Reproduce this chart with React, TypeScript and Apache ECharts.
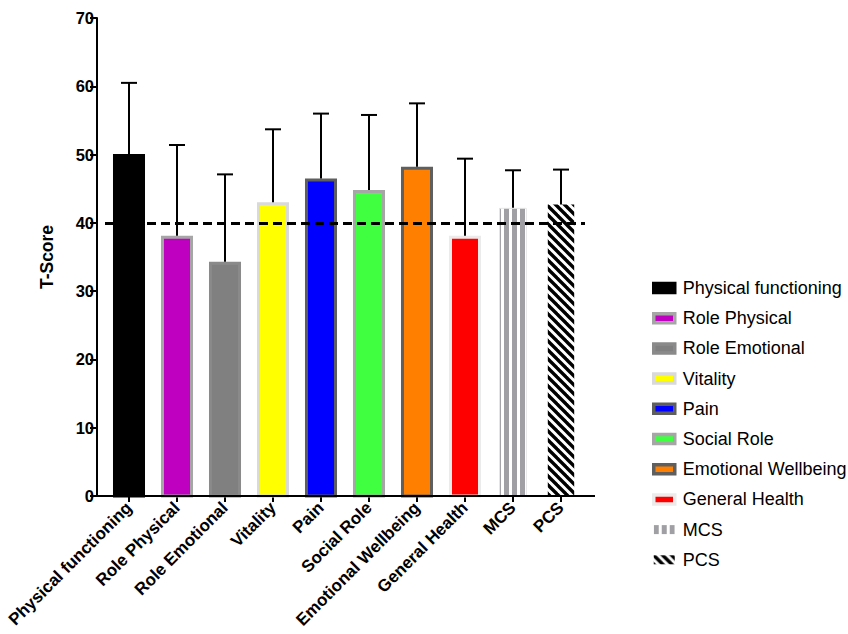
import React, { useEffect, useRef } from "react";
import * as echarts from "echarts";

const categories = [
  "Physical functioning",
  "Role Physical",
  "Role Emotional",
  "Vitality",
  "Pain",
  "Social Role",
  "Emotional Wellbeing",
  "General Health",
  "MCS",
  "PCS",
];
const means = [50.1, 38.1, 34.3, 43.0, 46.5, 44.8, 48.2, 38.1, 42.2, 42.7];
const upperErrors = [60.5, 51.4, 47.1, 53.7, 56.0, 55.8, 57.5, 49.4, 47.7, 47.8];
const referenceLine = 40;
const yTicks = { min: 0, max: 70, interval: 10 };

const fillColors = ["#000000", "#c000c0", "#808080", "#ffff00", "#0000ff", "#40ff40", "#ff8000", "#ff0000", "mcs", "pcs"];
const borderColors = ["#000000", "#a6a6a6", "#8a8a8a", "#d9d9d9", "#5f5f5f", "#a6a6a6", "#5f5f5f", "#ebebeb", "#e6e6e6", "#000000"];
const borderWidths = [3, 3, 3, 3, 3, 3, 3, 3, 1, 0];
const widthRatios = [0.667, 0.667, 0.667, 0.667, 0.667, 0.667, 0.667, 0.667, 0.58, 0.55];

const FONT = '"Liberation Sans", Arial, Helvetica, sans-serif';

function makeStripes(): any {
  const c = document.createElement("canvas");
  c.width = 8;
  c.height = 8;
  const ctx = c.getContext("2d")!;
  ctx.fillStyle = "#ffffff";
  ctx.fillRect(0, 0, 8, 8);
  ctx.fillStyle = "#a0a0a4";
  ctx.fillRect(0, 0, 5, 8);
  return { image: c, repeat: "repeat" };
}

function makeDiagonal(): any {
  const s = 9;
  const c = document.createElement("canvas");
  c.width = s;
  c.height = s;
  const ctx = c.getContext("2d")!;
  ctx.fillStyle = "#ffffff";
  ctx.fillRect(0, 0, s, s);
  ctx.strokeStyle = "#000000";
  ctx.lineWidth = 3.4;
  for (let k = -1; k <= 1; k++) {
    ctx.beginPath();
    ctx.moveTo(k * s - 2, -2);
    ctx.lineTo(k * s + s + 2, s + 2);
    ctx.stroke();
  }
  return { image: c, repeat: "repeat" };
}

export default function App() {
  const ref = useRef<HTMLDivElement>(null);

  useEffect(() => {
    document.body.style.margin = "0";
    if (!ref.current) return;
    const chart = echarts.init(ref.current, undefined, { renderer: "svg" });
    const stripes = makeStripes();
    const diagonal = makeDiagonal();
    const fillOf = (i: number) =>
      fillColors[i] === "mcs" ? stripes : fillColors[i] === "pcs" ? diagonal : fillColors[i];

    const series: any[] = categories.map((name, i) => {
      const s: any = {
        type: "custom",
        name,
        data: [[i, means[i], upperErrors[i]]],
        itemStyle: {
          color: fillOf(i),
          borderColor: borderColors[i],
          borderWidth: borderWidths[i],
        },
        renderItem: (params: any, api: any) => {
          const x = api.value(0);
          const m = api.value(1);
          const u = api.value(2);
          const base = api.coord([x, 0]);
          const top = api.coord([x, m]);
          const up = api.coord([x, u]);
          const band = api.size([1, 0])[0];
          const w = band * widthRatios[i];
          const b = borderWidths[i];
          const cx = base[0];
          return {
            type: "group",
            children: [
              {
                type: "rect",
                shape: {
                  x: cx - w / 2 + b / 2,
                  y: top[1] + b / 2,
                  width: w - b,
                  height: base[1] - top[1] - b / 2,
                },
                style: {
                  fill: fillOf(i),
                  stroke: b > 0 ? borderColors[i] : null,
                  lineWidth: b,
                },
              },
              {
                type: "line",
                shape: { x1: cx, y1: top[1], x2: cx, y2: up[1] },
                style: { stroke: "#000", lineWidth: 2 },
              },
              {
                type: "line",
                shape: { x1: cx - 8, y1: up[1], x2: cx + 8, y2: up[1] },
                style: { stroke: "#000", lineWidth: 2 },
              },
            ],
          };
        },
      };
      if (i === 0) {
        s.markLine = {
          silent: true,
          symbol: "none",
          z: 20,
          label: { show: false },
          lineStyle: { color: "#000", width: 3, type: [9, 5] },
          data: [{ yAxis: referenceLine }],
        };
      }
      return s;
    });

    chart.setOption({
      animation: false,
      backgroundColor: "#ffffff",
      grid: { left: 105, right: 263, top: 18, bottom: 138, containLabel: false },
      xAxis: {
        type: "category",
        data: categories,
        axisLine: { show: false },
        axisTick: { show: true, alignWithLabel: true, length: 6, lineStyle: { color: "#000", width: 2 } },
        axisLabel: {
          rotate: 45,
          interval: 0,
          margin: 9,
          color: "#000",
          fontWeight: "bold",
          fontSize: 17,
          fontFamily: FONT,
        },
        splitLine: { show: false },
      },
      yAxis: {
        type: "value",
        min: yTicks.min,
        max: yTicks.max,
        interval: yTicks.interval,
        offset: 8,
        name: "T-Score",
        nameLocation: "middle",
        nameRotate: 90,
        nameGap: 41,
        nameTextStyle: { color: "#000", fontWeight: "bold", fontSize: 17.5, fontFamily: FONT },
        axisLine: { show: true, lineStyle: { color: "#000", width: 2 } },
        axisTick: { show: true, length: 7, lineStyle: { color: "#000", width: 2 } },
        axisLabel: { color: "#000", fontWeight: "bold", fontSize: 16.5, fontFamily: FONT, margin: 3 },
        splitLine: { show: false },
      },
      legend: {
        orient: "vertical",
        left: 647,
        top: 274,
        icon: "rect",
        itemWidth: 21,
        itemHeight: 9,
        itemGap: 12.2,
        data: categories.map((name, i) => ({
          name,
          itemStyle: { borderWidth: i >= 8 ? 0 : 3.5 },
        })),
        textStyle: {
          color: "#000",
          fontSize: 18,
          lineHeight: 18,
          fontFamily: FONT,
          padding: [0, 0, 0, 3],
        },
      },
      graphic: [
        {
          type: "line",
          z: 100,
          shape: { x1: 96, y1: 496, x2: 595, y2: 496 },
          style: { stroke: "#000", lineWidth: 2 },
        },
      ],
      series,
    });

    return () => chart.dispose();
  }, []);

  return <div ref={ref} style={{ width: 848, height: 634 }} />;
}
